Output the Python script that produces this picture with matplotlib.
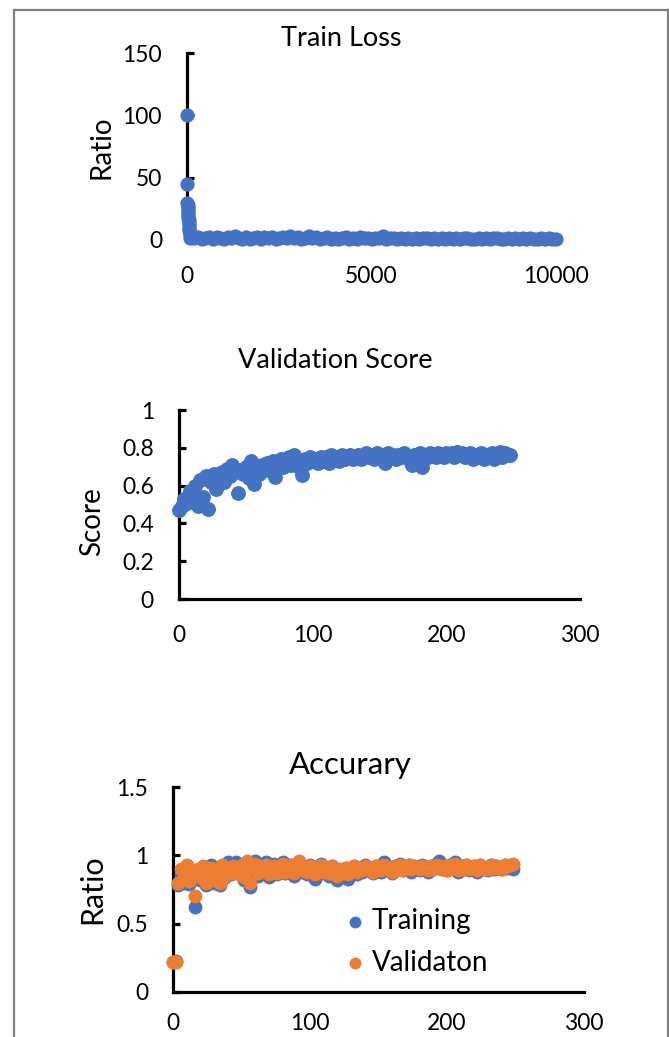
import matplotlib
matplotlib.use("Agg")
import matplotlib.pyplot as plt
from matplotlib.lines import Line2D

plt.rcParams['font.family'] = ['Lato', 'DejaVu Sans']

BLUE = '#4472C4'
ORANGE = '#ED7D31'

# ---- Train Loss ----
loss_early_steps = [0, 5, 10, 15, 20, 25, 30, 35, 40, 45, 50, 55, 60, 65, 70, 80, 90]
loss_early = [100, 45, 30, 28, 26, 24, 22, 20, 18, 16, 14, 12, 10, 8, 6, 4, 2]

loss_steps = list(range(100, 10001, 100))
loss_vals = [
    2.1, 1.5, 2.4, 0.8, 1.9, 2.2, 1.1, 2.5, 1.7, 0.9,
    2.3, 1.4, 3.4, 2.0, 1.2, 2.4, 0.7, 1.8, 2.2, 1.0,
    2.1, 1.6, 2.3, 0.9, 1.9, 2.2, 1.3, 3.6, 1.5, 2.1,
    0.8, 2.0, 3.2, 1.4, 2.2, 1.0, 1.8, 2.3, 1.2, 2.0,
    0.9, 1.7, 2.2, 1.1, 1.9, 0.6, 2.1, 1.4, 1.8, 1.0,
    2.0, 1.3, 3.0, 0.8, 1.6, 1.9, 1.1, 1.5, 0.7, 1.8,
    1.2, 1.6, 0.9, 1.7, 1.3, 0.8, 1.5, 1.1, 1.7, 0.6,
    1.4, 1.0, 1.6, 0.9, 1.3, 1.5, 0.7, 1.2, 1.6, 1.0,
    1.4, 0.8, 1.3, 1.5, 0.9, 1.2, 1.6, 0.7, 1.4, 1.1,
    1.3, 0.8, 1.5, 1.0, 1.2, 1.4, 0.9, 1.3, 1.1, 1.2,
]

# ---- Validation Score ----
val_epochs = list(range(0, 250, 2))
val_score = [
    0.47, 0.49, 0.53, 0.51, 0.57, 0.55, 0.60, 0.49, 0.63, 0.54,
    0.65, 0.475, 0.62, 0.66, 0.58, 0.64, 0.67, 0.62, 0.69, 0.65,
    0.71, 0.67, 0.56, 0.68, 0.66, 0.70, 0.64, 0.73, 0.61, 0.69,
    0.66, 0.71, 0.68, 0.72, 0.69, 0.73, 0.645, 0.71, 0.74, 0.70,
    0.72, 0.75, 0.71, 0.76, 0.73, 0.70, 0.655, 0.74, 0.72, 0.75,
    0.73, 0.74, 0.72, 0.75, 0.73, 0.75, 0.72, 0.76, 0.74, 0.75,
    0.73, 0.76, 0.74, 0.75, 0.76, 0.74, 0.75, 0.76, 0.74, 0.75,
    0.77, 0.75, 0.76, 0.74, 0.77, 0.75, 0.76, 0.72, 0.77, 0.75,
    0.76, 0.74, 0.76, 0.75, 0.77, 0.75, 0.74, 0.71, 0.76, 0.75,
    0.77, 0.70, 0.76, 0.75, 0.77, 0.76, 0.75, 0.77, 0.76, 0.75,
    0.77, 0.76, 0.77, 0.75, 0.78, 0.76, 0.77, 0.75, 0.76, 0.77,
    0.74, 0.76, 0.75, 0.77, 0.74, 0.76, 0.75, 0.77, 0.74, 0.76,
    0.78, 0.75, 0.77, 0.76, 0.76,
]

# ---- Accuracy ----
acc_epochs = list(range(0, 250, 2))
acc_train = [
    0.22, 0.23, 0.78, 0.86, 0.80, 0.88, 0.79, 0.84, 0.62, 0.85,
    0.82, 0.90, 0.78, 0.87, 0.93, 0.80, 0.88, 0.78, 0.91, 0.84,
    0.95, 0.86, 0.90, 0.95, 0.88, 0.92, 0.82, 0.94, 0.77, 0.90,
    0.96, 0.85, 0.93, 0.88, 0.95, 0.84, 0.91, 0.94, 0.86, 0.92,
    0.95, 0.87, 0.90, 0.93, 0.85, 0.92, 0.95, 0.88, 0.91, 0.86,
    0.93, 0.89, 0.83, 0.91, 0.94, 0.87, 0.90, 0.85, 0.92, 0.84,
    0.82, 0.89, 0.84, 0.91, 0.83, 0.88, 0.92, 0.86, 0.90, 0.88,
    0.93, 0.89, 0.91, 0.87, 0.92, 0.90, 0.88, 0.95, 0.89, 0.91,
    0.87, 0.92, 0.90, 0.94, 0.89, 0.91, 0.93, 0.88, 0.92, 0.90,
    0.89, 0.93, 0.91, 0.88, 0.92, 0.90, 0.94, 0.96, 0.90, 0.92,
    0.89, 0.93, 0.91, 0.95, 0.88, 0.92, 0.90, 0.93, 0.89, 0.91,
    0.92, 0.88, 0.93, 0.90, 0.91, 0.89, 0.93, 0.90, 0.92, 0.91,
    0.90, 0.93, 0.91, 0.92, 0.90,
]
acc_val = [
    0.22, 0.22, 0.80, 0.90, 0.84, 0.93, 0.81, 0.88, 0.70, 0.90,
    0.84, 0.92, 0.80, 0.88, 0.91, 0.82, 0.86, 0.80, 0.93, 0.85,
    0.90, 0.87, 0.92, 0.88, 0.86, 0.93, 0.84, 0.96, 0.80, 0.91,
    0.94, 0.87, 0.92, 0.89, 0.93, 0.86, 0.90, 0.92, 0.87, 0.91,
    0.94, 0.88, 0.91, 0.93, 0.87, 0.92, 0.96, 0.89, 0.91, 0.88,
    0.92, 0.90, 0.86, 0.91, 0.93, 0.88, 0.90, 0.87, 0.92, 0.86,
    0.85, 0.90, 0.87, 0.91, 0.86, 0.89, 0.92, 0.88, 0.91, 0.89,
    0.92, 0.90, 0.91, 0.88, 0.92, 0.90, 0.89, 0.93, 0.90, 0.91,
    0.88, 0.92, 0.90, 0.93, 0.89, 0.91, 0.93, 0.90, 0.92, 0.91,
    0.90, 0.92, 0.91, 0.89, 0.92, 0.90, 0.93, 0.92, 0.90, 0.92,
    0.89, 0.93, 0.91, 0.94, 0.89, 0.92, 0.90, 0.93, 0.90, 0.91,
    0.92, 0.89, 0.93, 0.90, 0.91, 0.90, 0.93, 0.91, 0.92, 0.91,
    0.90, 0.93, 0.92, 0.93, 0.94,
]

W, H = 669, 1037
fig = plt.figure(figsize=(W / 100, H / 100), dpi=100)


def px(x, y):
    # pixel coords (top-left origin) -> figure fraction
    return x / W, 1 - y / H


def style_axes(ax, tick_size, xpad=19):
    for s in ['top', 'right']:
        ax.spines[s].set_visible(False)
    for s in ['left', 'bottom']:
        ax.spines[s].set_linewidth(2.3)
        ax.spines[s].set_zorder(2)
    ax.tick_params(axis='y', direction='in', length=5, width=2.3,
                   pad=18, labelsize=tick_size)
    ax.tick_params(axis='x', length=0, pad=xpad, labelsize=tick_size)


# Train Loss panel
ax1 = fig.add_axes([187 / W, 1 - 240 / H, 369 / W, 187 / H])
ax1.scatter(loss_steps, loss_vals, s=105, color=BLUE, zorder=3, clip_on=False, linewidths=0)
ax1.scatter(loss_early_steps, loss_early, s=105, color=BLUE, zorder=3, clip_on=False, linewidths=0)
ax1.set_xlim(0, 10000)
ax1.set_ylim(0, 150)
ax1.set_xticks([0, 5000, 10000])
ax1.set_yticks([0, 50, 100, 150])
style_axes(ax1, 16.5)

# Validation Score panel
ax2 = fig.add_axes([179 / W, 1 - 599 / H, 401 / W, 189 / H])
ax2.scatter(val_epochs, val_score, s=115, color=BLUE, zorder=3, clip_on=False, linewidths=0)
ax2.set_xlim(0, 300)
ax2.set_ylim(0, 1)
ax2.set_xticks([0, 100, 200, 300])
ax2.set_yticks([0, 0.2, 0.4, 0.6, 0.8, 1])
ax2.set_yticklabels(['0', '0.2', '0.4', '0.6', '0.8', '1'])
style_axes(ax2, 16.5)

# Accuracy panel
ax3 = fig.add_axes([173 / W, 1 - 992 / H, 411 / W, 205 / H])
ax3.scatter(acc_epochs, acc_train, s=100, color=BLUE, zorder=3, clip_on=False,
            linewidths=0, label='Training')
ax3.scatter(acc_epochs, acc_val, s=100, color=ORANGE, zorder=4, clip_on=False,
            linewidths=0, label='Validaton')
ax3.set_xlim(0, 300)
ax3.set_ylim(0, 1.5)
ax3.set_xticks([0, 100, 200, 300])
ax3.set_yticks([0, 0.5, 1, 1.5])
ax3.set_yticklabels(['0', '0.5', '1', '1.5'])
style_axes(ax3, 16.5, xpad=15)
ax3.legend(loc='center left', bbox_to_anchor=px(347, 942), bbox_transform=fig.transFigure,
           frameon=False, fontsize=20, handlelength=0.6, handletextpad=0.3,
           labelspacing=0.55, markerscale=0.85, borderaxespad=0, borderpad=0)

# titles and axis labels placed as in the figure
fig.text(*px(341, 38), 'Train Loss', ha='center', va='center', fontsize=19.5)
fig.text(*px(335, 360), 'Validation Score', ha='center', va='center', fontsize=19.5)
fig.text(*px(350, 765), 'Accurary', ha='center', va='center', fontsize=22.5)
fig.text(*px(102, 147), 'Ratio', ha='center', va='center', rotation=90, fontsize=20)
fig.text(*px(92, 522), 'Score', ha='center', va='center', rotation=90, fontsize=20)
fig.text(*px(92, 889), 'Ratio', ha='center', va='center', rotation=90, fontsize=22)

# grey frame around the whole picture (open at the bottom)
frame_kw = dict(transform=fig.transFigure, color='#7f7f7f', linewidth=1.6)
fig.add_artist(Line2D([14 / W, 14 / W], [0, 1 - 10 / H], **frame_kw))
fig.add_artist(Line2D([14 / W, 668 / W], [1 - 10 / H, 1 - 10 / H], **frame_kw))
fig.add_artist(Line2D([668 / W, 668 / W], [0, 1 - 10 / H], **frame_kw))

fig.savefig('out.png', dpi=100)
